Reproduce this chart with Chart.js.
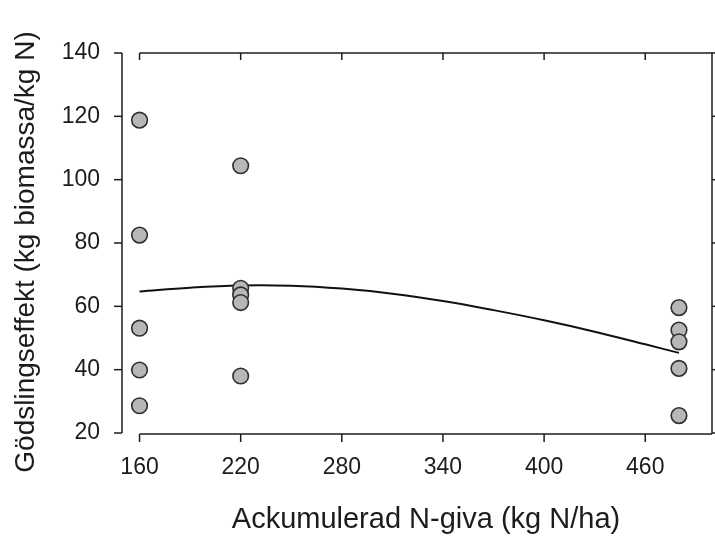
<!DOCTYPE html>
<html>
<head>
<meta charset="utf-8">
<script src="https://cdn.jsdelivr.net/npm/chart.js@4"></script>
<style>
  html, body { margin: 0; padding: 0; background: #fff; }
  canvas { display: block; }
</style>
</head>
<body>
<canvas id="chart" width="715" height="536"></canvas>
<script>
// Measured points (kg N/ha vs kg biomassa/kg N)
var pointX = [160, 160, 160, 160, 160, 220, 220, 220, 220, 220, 480, 480, 480, 480, 480];
var pointY = [118.8, 82.5, 53.1, 39.9, 28.6, 104.4, 65.7, 63.6, 61.2, 38.0, 59.6, 52.5, 48.8, 40.4, 25.5];

// Fitted curve
var curveX = [160, 190, 220, 250, 280, 310, 340, 370, 400, 430, 460, 480];
var curveY = [64.7, 65.9, 66.6, 66.5, 65.6, 64.0, 61.7, 58.8, 55.6, 52.0, 48.0, 45.3];

var xTicks = [160, 220, 280, 340, 400, 460];
var yTicks = [20, 40, 60, 80, 100, 120, 140];

var xTitle = 'Ackumulerad N-giva (kg N/ha)';
var yTitle = 'Gödslingseffekt (kg biomassa/kg N)';

var FONT = '"Liberation Sans", Arial, sans-serif';
var INK = '#1c1c1c';

// SigmaPlot style axes: detached y axis, framed top/right
var axesFrame = {
  id: 'axesFrame',
  afterDraw(chart) {
    var ctx = chart.ctx;
    var a = chart.chartArea;
    var x = chart.scales.x, y = chart.scales.y;
    var x0 = x.getPixelForValue(xTicks[0]);
    var line = (x1, y1, x2, y2) => {
      ctx.beginPath();
      ctx.moveTo(x1, y1);
      ctx.lineTo(x2, y2);
      ctx.stroke();
    };

    ctx.save();
    ctx.strokeStyle = INK;
    ctx.lineWidth = 1.5;

    // y axis + ticks
    var yTop = y.getPixelForValue(yTicks[yTicks.length - 1]);
    var yBot = y.getPixelForValue(yTicks[0]);
    line(a.left, yTop, a.left, yBot);
    yTicks.forEach(v => {
      var py = y.getPixelForValue(v);
      line(a.left - 8, py, a.left, py);
      line(a.right, py, a.right + 5, py);
    });

    // right frame
    line(a.right, yTop, a.right, a.bottom + 1);

    // top frame and bottom axis
    line(x0, a.top, a.right, a.top);
    line(x0, a.bottom + 1, a.right, a.bottom + 1);
    xTicks.forEach(v => {
      var px = x.getPixelForValue(v);
      line(px, a.top, px, a.top + 7);
      line(px, a.bottom + 1, px, a.bottom + 9);
    });

    // axis titles
    ctx.fillStyle = INK;
    ctx.font = '29px ' + FONT;
    ctx.textAlign = 'center';
    ctx.textBaseline = 'alphabetic';
    ctx.fillText(xTitle, 426, 528);

    ctx.translate(34, 252);
    ctx.rotate(-Math.PI / 2);
    ctx.font = '28px ' + FONT;
    ctx.fillText(yTitle, 0, 0);
    ctx.restore();
  }
};

var scatterData = pointX.map((v, i) => ({ x: v, y: pointY[i] }));
var curveData = curveX.map((v, i) => ({ x: v, y: curveY[i] }));

new Chart(document.getElementById('chart'), {
  type: 'scatter',
  data: {
    datasets: [
      {
        label: 'obs',
        data: scatterData,
        pointRadius: 7.8,
        pointBackgroundColor: '#b7b7b7',
        pointBorderColor: '#2e2e2e',
        pointBorderWidth: 1.6,
        showLine: false
      },
      {
        label: 'fit',
        data: curveData,
        showLine: true,
        pointRadius: 0,
        borderColor: '#111',
        borderWidth: 2,
        tension: 0.4
      }
    ]
  },
  options: {
    responsive: false,
    animation: false,
    devicePixelRatio: 1,
    layout: { autoPadding: false, padding: { top: 53, right: 3, left: 0, bottom: 0 } },
    plugins: {
      legend: { display: false },
      tooltip: { enabled: false }
    },
    scales: {
      x: {
        type: 'linear',
        min: 149.6,
        max: 499.6,
        afterBuildTicks: s => { s.ticks = xTicks.map(v => ({ value: v })); },
        afterFit: s => { s.height = 103; },
        grid: { display: false },
        border: { display: false },
        ticks: {
          padding: 13,
          autoSkip: false,
          maxRotation: 0,
          color: INK,
          font: { family: FONT, size: 23 }
        }
      },
      y: {
        min: 20,
        max: 140,
        afterBuildTicks: s => { s.ticks = yTicks.map(v => ({ value: v })); },
        afterFit: s => { s.width = 122; },
        grid: { display: false },
        border: { display: false },
        ticks: {
          padding: 14,
          color: INK,
          font: { family: FONT, size: 23 }
        }
      }
    }
  },
  plugins: [axesFrame]
});
</script>
</body>
</html>
